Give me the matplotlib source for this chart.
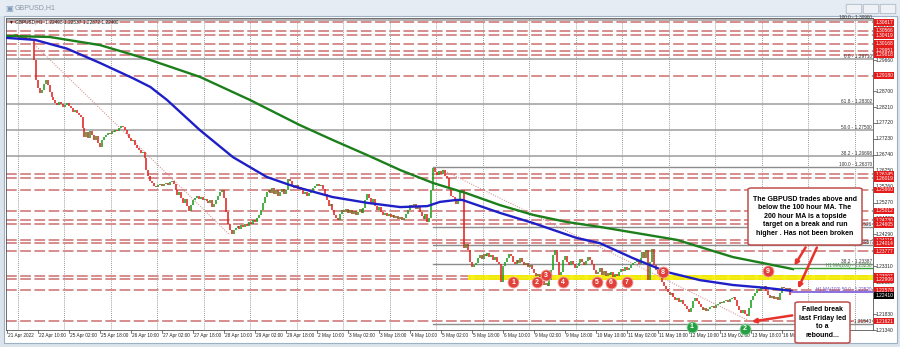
import matplotlib
matplotlib.use("Agg")
import matplotlib.pyplot as plt
from matplotlib.patches import Rectangle, FancyBboxPatch, FancyArrowPatch
import numpy as np

plt.rcParams['font.family'] = ['Liberation Sans', 'DejaVu Sans']

W, H = 900, 347

# GBPUSD H1 closes, 21 Apr 18:00 -> 16 May 14:00
closes = [
    1.3040, 1.3043, 1.3036, 1.3041, 1.3045, 1.3038, 1.3035, 1.3040, 1.3033, 1.3036, 1.3030, 1.3034, 1.3028, 1.3031,
    1.2966, 1.2904, 1.2880, 1.2864, 1.2874, 1.2892, 1.2904, 1.2889, 1.2867, 1.2852, 1.2843,
    1.2834, 1.2827, 1.2837, 1.2830, 1.2821, 1.2827, 1.2834, 1.2824,
    1.2818, 1.2806, 1.2812, 1.2803, 1.2797, 1.2790, 1.2757, 1.2729,
    1.2744, 1.2726, 1.2747, 1.2735, 1.2720, 1.2732, 1.2710, 1.2698,
    1.2720, 1.2729, 1.2735, 1.2741, 1.2738, 1.2747, 1.2744, 1.2750, 1.2747, 1.2757, 1.2763, 1.2760,
    1.2750, 1.2738, 1.2726, 1.2717, 1.2720, 1.2704, 1.2695, 1.2689, 1.2680, 1.2683,
    1.2664, 1.2627, 1.2609, 1.2593, 1.2587, 1.2578, 1.2575,
    1.2581, 1.2584, 1.2578, 1.2584, 1.2587, 1.2581, 1.2590, 1.2593, 1.2584,
    1.2566, 1.2550, 1.2559, 1.2541, 1.2526, 1.2538, 1.2516, 1.2501, 1.2519, 1.2535,
    1.2541, 1.2547, 1.2538, 1.2544, 1.2535, 1.2538, 1.2532, 1.2526, 1.2535, 1.2513, 1.2523, 1.2535, 1.2547, 1.2559, 1.2566,
    1.2541, 1.2498, 1.2461, 1.2442, 1.2430, 1.2442,
    1.2448, 1.2455, 1.2445, 1.2458, 1.2451, 1.2461, 1.2455, 1.2467, 1.2461, 1.2473, 1.2467, 1.2479, 1.2489,
    1.2504, 1.2526, 1.2544, 1.2559, 1.2566,
    1.2556, 1.2572, 1.2553, 1.2566, 1.2547, 1.2559, 1.2569, 1.2553, 1.2566, 1.2599, 1.2593,
    1.2578, 1.2572, 1.2581, 1.2569, 1.2575,
    1.2566, 1.2553, 1.2559, 1.2547, 1.2556, 1.2563, 1.2572,
    1.2578, 1.2584, 1.2578, 1.2581, 1.2569,
    1.2553, 1.2535, 1.2516, 1.2523, 1.2504, 1.2489, 1.2479, 1.2473, 1.2492,
    1.2504, 1.2498, 1.2507, 1.2495, 1.2504, 1.2492, 1.2501, 1.2489, 1.2498, 1.2507, 1.2495, 1.2510,
    1.2535, 1.2553, 1.2541, 1.2526, 1.2538, 1.2516, 1.2504, 1.2513,
    1.2498, 1.2489, 1.2495, 1.2486, 1.2492, 1.2482, 1.2489, 1.2479, 1.2486, 1.2476, 1.2482, 1.2473, 1.2479, 1.2492,
    1.2504, 1.2519, 1.2513, 1.2523, 1.2507, 1.2516, 1.2498,
    1.2486, 1.2476, 1.2492, 1.2467, 1.2479,
    1.2566, 1.2634, 1.2621, 1.2612, 1.2624, 1.2615, 1.2627, 1.2609, 1.2603,
    1.2572, 1.2547, 1.2544, 1.2535, 1.2523, 1.2538, 1.2559, 1.2566,
    1.2387, 1.2399, 1.2381, 1.2344, 1.2328, 1.2335, 1.2341,
    1.2356, 1.2365, 1.2353, 1.2368, 1.2362, 1.2371, 1.2359, 1.2365, 1.2350, 1.2359, 1.2344, 1.2338,
    1.2282, 1.2331, 1.2344, 1.2356, 1.2368, 1.2362, 1.2344,
    1.2338, 1.2350, 1.2341, 1.2356, 1.2344, 1.2335, 1.2341, 1.2328, 1.2335, 1.2322,
    1.2310, 1.2301, 1.2307, 1.2298, 1.2285, 1.2273, 1.2279, 1.2270, 1.2288,
    1.2319, 1.2365, 1.2381, 1.2344, 1.2304, 1.2313, 1.2350, 1.2362,
    1.2344, 1.2335, 1.2347, 1.2338, 1.2325, 1.2331, 1.2341, 1.2353, 1.2344, 1.2335, 1.2347, 1.2359, 1.2350, 1.2338,
    1.2319, 1.2307, 1.2313,
    1.2325, 1.2304, 1.2316, 1.2301, 1.2310, 1.2304, 1.2313, 1.2298, 1.2307, 1.2301,
    1.2313, 1.2322, 1.2316, 1.2328, 1.2319, 1.2325, 1.2335, 1.2341,
    1.2344, 1.2350, 1.2338, 1.2356, 1.2375, 1.2356, 1.2381, 1.2288, 1.2344, 1.2384,
    1.2335, 1.2319, 1.2307, 1.2313, 1.2282, 1.2270, 1.2261,
    1.2252, 1.2242, 1.2248, 1.2236, 1.2227, 1.2233, 1.2220, 1.2227, 1.2214, 1.2208,
    1.2199, 1.2190, 1.2202, 1.2224, 1.2233, 1.2224, 1.2214,
    1.2205, 1.2196, 1.2202, 1.2193, 1.2199,
    1.2205, 1.2208, 1.2202, 1.2211, 1.2214, 1.2220, 1.2217, 1.2224, 1.2227, 1.2220, 1.2230, 1.2233,
    1.2236, 1.2227, 1.2208, 1.2196, 1.2187, 1.2196, 1.2183, 1.2177,
    1.2202, 1.2227, 1.2239, 1.2248, 1.2261, 1.2254, 1.2267, 1.2261, 1.2270,
    1.2254, 1.2242, 1.2233, 1.2239, 1.2230, 1.2236, 1.2227,
    1.2248, 1.2267, 1.2264, 1.2258, 1.2264, 1.2241,
]
first_open = 1.3042

# 100 / 200 hour moving averages sampled along the chart (bar index, price)
ma100_bar = [0, 14.5, 31, 48, 65, 74, 82.6, 99.6, 116.6, 134, 146, 151, 168, 186, 203, 217,
             223.5, 232, 235, 254.5, 271.5, 294, 306, 323, 340.6, 357.7, 374.7, 392, 405]
ma100_val = [1.3034, 1.3028, 1.3001, 1.2957, 1.2910, 1.2883, 1.2843, 1.2750, 1.2667, 1.2606, 1.2581,
             1.2572, 1.2544, 1.2526, 1.2513, 1.2516, 1.2529, 1.2535, 1.2535, 1.2495, 1.2464, 1.2418,
             1.2402, 1.2356, 1.2313, 1.2288, 1.2273, 1.2264, 1.2255]
ma200_bar = [0, 22, 48, 74, 99.6, 125.4, 151, 168, 186, 203, 220, 237, 254.5, 271.5, 289, 306,
             345.8, 374.7, 405.7]
ma200_val = [1.3040, 1.3037, 1.3012, 1.2966, 1.2914, 1.2843, 1.2766, 1.2720, 1.2673, 1.2627, 1.2587,
             1.2556, 1.2519, 1.2489, 1.2467, 1.2452, 1.2412, 1.2359, 1.2322]

# red dashed support / resistance levels
levels = [1.30817, 1.30566, 1.30419, 1.30168, 1.29951, 1.29818, 1.29180, 1.26145, 1.26019, 1.25660,
          1.25012, 1.24730, 1.24605, 1.24116, 1.24014, 1.23777, 1.23007, 1.22906, 1.22576, 1.21621]

# fibonacci retracements
fib_full = [("100.0 - 1.30900", 1.30900), ("0.0 - 1.29710", 1.29690), ("61.8 - 1.28302", 1.28302),
            ("50.0 - 1.27500", 1.27500), ("38.2 - 1.26698", 1.26698)]
fib_may = [("100.0 - 1.26370", 1.26370), ("61.8 - 1.24526", 1.24526), ("50.0 - 1.23957", 1.23957),
           ("38.2 - 1.23387", 1.23387), ("0.0 - 1.21543", 1.21543)]
fib_start_bar = 220

axis_ticks = [1.30640, 1.30150, 1.29660, 1.29190, 1.28700, 1.28210, 1.27720, 1.27230, 1.26740, 1.26250,
              1.25760, 1.25270, 1.24780, 1.24290, 1.23800, 1.23310, 1.22820, 1.22330, 1.21830, 1.21340]

time_labels = ["21 Apr 2022", "22 Apr 10:00", "25 Apr 02:00", "25 Apr 18:00", "26 Apr 10:00",
               "27 Apr 02:00", "27 Apr 18:00", "28 Apr 10:00", "29 Apr 02:00", "29 Apr 18:00",
               "2 May 10:00", "3 May 02:00", "3 May 18:00", "4 May 10:00", "5 May 02:00",
               "5 May 18:00", "6 May 10:00", "9 May 02:00", "9 May 18:00", "10 May 10:00",
               "11 May 02:00", "11 May 18:00", "12 May 10:00", "13 May 02:00", "13 May 18:00",
               "16 May 10:00"]

ma200_level = 1.23250
ma100_level = 1.22520
last_price = 1.22410
zone_lo, zone_hi = 1.22884, 1.23038   # yellow support band
zone_start_bar = 238


def fpx(x, y):
    # figure pixels (top-left origin) -> figure fraction
    return (x / W, 1 - y / H)


fig = plt.figure(figsize=(W / 100, H / 100), dpi=100, facecolor='#dbe3ec')

# window chrome (behind the axes)
fig.add_artist(Rectangle(fpx(0, 16), 1, 16 / H, transform=fig.transFigure, fc='#e6ecf3', ec='none',
                         zorder=-10))
fig.add_artist(Rectangle(fpx(4, 343), 893 / W, 327 / H, transform=fig.transFigure,
                         fc='white', ec='#9fb0c2', lw=0.8, zorder=-9))
fig.text(*fpx(5, 8), "\u25a3", fontsize=6, color='#7f9ab8', va='center', family='DejaVu Sans')
fig.text(*fpx(15, 8), "GBPUSD,H1", fontsize=5, color='#8a97a6', va='center')
for bx in (848, 865, 882):
    fig.add_artist(FancyBboxPatch(fpx(bx, 13), 12 / W, 8 / H, boxstyle='round,pad=0.002',
                                  transform=fig.transFigure, fc='#eef2f6', ec='#a9b6c4', lw=0.6))

ax = fig.add_axes([6 / W, 1 - 330 / H, (873 - 6) / W, (330 - 18) / H])
ax.set_facecolor('white')
ax.set_xlim(-0.5, 447)
ax.set_ylim(1.21344, 1.30954)
ax.set_xticks([])
ax.set_yticks([])
for s in ax.spines.values():
    s.set_color('#555555')
    s.set_linewidth(0.6)

# vertical day grid
for g in np.arange(5.5, 447, 24):
    ax.axvline(g, color='#7a7a7a', lw=0.6, ls=(0, (1, 1.5)), zorder=1)

# levels
for lv in levels:
    ax.axhline(lv, color='#d78c8c', lw=1.4, ls=(0, (5.5, 1.8)), zorder=2)

# fib lines
for txt, p in fib_full:
    ax.axhline(p, color='#9c9c9c', lw=1.1, zorder=2)
    ax.text(0.9985, p, txt, transform=ax.get_yaxis_transform(), ha='right', va='bottom',
            fontsize=3.4, color='#333333', zorder=3)
for txt, p in fib_may:
    ax.plot([fib_start_bar, 447], [p, p], color='#8c8c8c', lw=1.0, zorder=2)
    ax.text(0.9985, p, txt, transform=ax.get_yaxis_transform(), ha='right', va='bottom',
            fontsize=3.4, color='#333333', zorder=3)

# yellow zone
ax.add_patch(Rectangle((zone_start_bar, zone_lo), 447 - zone_start_bar, zone_hi - zone_lo,
                       fc='#f4f000', ec='none', alpha=0.9, zorder=3))

# dotted trend lines
ax.plot([13.4, 115], [1.3018, 1.2427], color='#d08080', lw=0.7, ls=(0, (1, 1.5)), zorder=3)
ax.plot([225, 382], [1.2627, 1.2166], color='#d08080', lw=0.7, ls=(0, (1, 1.5)), zorder=3)

# candles
c = np.array(closes)
o = np.array([first_open] + closes[:-1])
xb = np.arange(len(c))
col = np.where(c >= o, '#1e9e1e', '#e0231f')
ax.vlines(xb, np.minimum(o, c), np.maximum(o, c), colors=col, lw=1.15, zorder=5)

# moving averages
ax.plot(ma200_bar, ma200_val, color='#1c7f1c', lw=1.7, zorder=6)
ax.plot(ma100_bar, ma100_val, color='#1f1fc8', lw=1.7, zorder=6)

# MA level markers at the right
ax.plot([405.7, 447], [ma200_level, ma200_level], color='#35a035', lw=1.0, zorder=6)
ax.plot([405, 447], [ma100_level, ma100_level], color='#8a6fe0', lw=1.4, zorder=6)
ax.text(0.9985, ma200_level, "H1 MA(200) - 1.23250", transform=ax.get_yaxis_transform(),
        ha='right', va='bottom', fontsize=3.3, color='#3a8a3a', zorder=7)
ax.text(0.9985, ma100_level, "H1 MA(100) 50.0 - 1.22520", transform=ax.get_yaxis_transform(),
        ha='right', va='bottom', fontsize=3.3, color='#6a50c8', zorder=7)

# legend line top-left
ax.text(0.003, 0.995, "\u25bc GBPUSD,H1  1.22498 1.22537 1.22372 1.22400", transform=ax.transAxes,
        ha='left', va='top', fontsize=3.4, color='#222222')

# price axis
yt = ax.get_yaxis_transform()
for p in axis_ticks:
    ax.plot([1.0, 1.004], [p, p], transform=yt, color='#444444', lw=0.5, clip_on=False)
    ax.text(1.003, p, f"{p:.5f}", transform=yt, ha='left', va='center', fontsize=3.5,
            color='#222222', clip_on=False, zorder=8)
for lv in levels:
    ax.text(1.0025, lv, f"{lv:.5f}", transform=yt, ha='left', va='center', fontsize=3.5,
            color='white', clip_on=False, zorder=9,
            bbox=dict(boxstyle='square,pad=0.18', fc='#e31b1b', ec='none'))
ax.text(1.0025, last_price, f"{last_price:.5f}", transform=yt, ha='left', va='center', fontsize=3.5,
        color='white', clip_on=False, zorder=9,
        bbox=dict(boxstyle='square,pad=0.18', fc='black', ec='none'))

# time axis
xt = ax.get_xaxis_transform()
for k, lab in enumerate(time_labels):
    xi = 16 * k
    ax.plot([xi, xi], [0, -0.01], transform=xt, color='#444444', lw=0.5, clip_on=False)
    ax.text(xi + 0.6, -0.018, lab, transform=xt, ha='left', va='center', fontsize=3.4,
            color='#222222', clip_on=False)

# numbered touches of the yellow zone
red_marks = [("1", 261.2, 1.22822), ("2", 273.5, 1.22822), ("3", 278.2, 1.23038),
             ("4", 287.0, 1.22822), ("5", 304.5, 1.22822), ("6", 311.7, 1.22792),
             ("7", 320.0, 1.22822), ("8", 338.6, 1.2313), ("9", 392.8, 1.2316)]
for lab, mx, my in red_marks:
    ax.scatter([mx], [my], s=62, color='#e2403a', edgecolors='#f3a09a', linewidths=0.6, zorder=10)
    ax.text(mx, my, lab, ha='center', va='center', fontsize=5, color='white',
            fontweight='bold', zorder=11)
for lab, mx, my in (("1", 353.5, 1.2144), ("2", 380.9, 1.2138)):
    ax.scatter([mx], [my], s=62, color='#27a043', edgecolors='#8fd39f', linewidths=0.6,
               zorder=10, clip_on=False)
    ax.text(mx, my, lab, ha='center', va='center', fontsize=5, color='white',
            fontweight='bold', zorder=11, clip_on=False)

# comment boxes
box_kw = dict(boxstyle='round,pad=0,rounding_size=0.004', transform=fig.transFigure,
              fc='white', ec='#c0504d', lw=1.1, zorder=20)
fig.add_artist(FancyBboxPatch(fpx(748, 245), 114 / W, 57 / H, **box_kw))
fig.text(*fpx(805, 216.5), "The GBPUSD trades above and\nbelow the 100 hour MA. The\n"
         "200 hour MA is a topside\ntarget on a break and run\nhigher . Has not been broken",
         ha='center', va='center', fontsize=5, fontweight='bold', linespacing=1.3, zorder=21)
fig.add_artist(FancyBboxPatch(fpx(795, 343), 55 / W, 41 / H, **box_kw))
fig.text(*fpx(822.5, 322.5), "Failed break\nlast Friday led\nto a\nrebound...",
         ha='center', va='center', fontsize=5, fontweight='bold', linespacing=1.3, zorder=21)

arrow_kw = dict(arrowstyle='-|>', color='#e8322c', lw=1.8, mutation_scale=6)
for tail, head in (((807, 245), (793, 268)), ((818, 245), (797, 291)), ((795, 315), (749, 322))):
    fig.add_artist(FancyArrowPatch(fpx(*tail), fpx(*head), transform=fig.transFigure, zorder=19,
                                   **arrow_kw))

fig.savefig("out.png", dpi=100, facecolor=fig.get_facecolor())
